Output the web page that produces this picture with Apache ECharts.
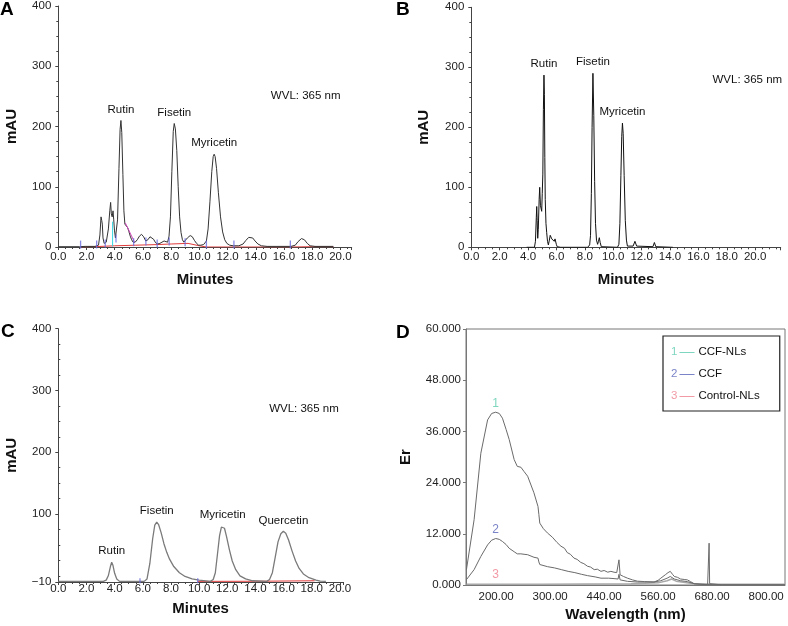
<!DOCTYPE html>
<html><head><meta charset="utf-8">
<script src="https://cdn.jsdelivr.net/npm/echarts@6/dist/echarts.min.js"></script>
<style>html,body{margin:0;padding:0;background:#fff}#c{width:788px;height:626px}</style>
</head><body><div id="c"></div>
<script>
// ---------- Panel A (HPLC chromatogram, extract) ----------
const traceA = [[0,0.5],[1.5,0.5],[1.9,1],[2.0,3],[2.1,1],[2.6,1],[2.85,3],[2.95,20],[3.03,50],[3.08,44],[3.12,38],[3.17,15],[3.25,6],[3.4,8],[3.55,30],[3.65,60],[3.71,74],[3.76,55],[3.82,50],[3.88,60],[3.93,45],[3.98,28],[4.05,15],[4.12,18],[4.2,45],[4.3,130],[4.38,195],[4.44,210],[4.5,190],[4.58,120],[4.65,60],[4.72,38],[4.8,40],[4.86,37],[4.92,32],[5.0,26],[5.1,18],[5.2,12],[5.3,8],[5.45,8],[5.6,12],[5.75,18],[5.9,21],[6.05,17],[6.2,10],[6.35,12],[6.5,17],[6.62,18],[6.75,13],[6.9,7],[7.05,5],[7.2,6],[7.35,8],[7.5,10],[7.62,9],[7.75,8],[7.85,18],[7.95,50],[8.05,125],[8.15,192],[8.22,205],[8.3,196],[8.4,160],[8.5,100],[8.6,50],[8.7,24],[8.8,12],[8.9,8],[9.0,10],[9.15,15],[9.35,19],[9.5,17],[9.65,11],[9.8,6],[9.95,3],[10.1,3],[10.3,4],[10.5,10],[10.62,30],[10.75,75],[10.88,125],[10.98,150],[11.05,154],[11.12,150],[11.22,130],[11.35,90],[11.5,50],[11.65,25],[11.8,12],[11.95,6],[12.15,3],[12.4,2],[12.8,2],[13.1,5],[13.3,11],[13.5,16],[13.62,17],[13.78,15],[13.95,10],[14.15,5],[14.4,2],[14.8,1],[15.5,1],[16.5,1],[16.8,3],[17.0,9],[17.24,14],[17.45,12],[17.65,6],[17.85,2],[18.2,1],[19.5,1]];
const baselineA = [[1.6,0],[2.5,0.5],[4.0,2],[5.5,3],[7.0,4],[8.0,5],[9.2,6],[10.0,2],[10.5,0],[12.5,0],[16.5,0],[18.0,0.5],[19.5,0.5]];
const dropLineA = [[3.85,1],[3.85,42]];
const skimLineA = [[4.75,40],[5.4,8]];
const markersA = [[1.58,4],[2.72,4],[3.33,6],[4.09,14],[5.34,8],[6.21,9],[7.01,6],[7.86,9],[8.99,8],[10.5,4],[12.45,4],[16.45,4]];
const peakNamesA = ['Rutin','Fisetin','Myricetin'];
const peakTimesA = [4.44, 8.22, 11.05];

// ---------- Panel B ----------
const traceB = [[3.9,0],[4.45,0],[4.52,10],[4.58,50],[4.61,68],[4.64,45],[4.68,15],[4.72,30],[4.78,80],[4.82,100],[4.87,70],[4.92,70],[4.96,60],[5.0,90],[5.04,122],[5.08,230],[5.12,287],[5.15,255],[5.18,150],[5.21,80],[5.26,40],[5.31,25],[5.37,10],[5.43,4],[5.5,12],[5.56,20],[5.61,23],[5.67,14],[5.73,16],[5.79,16],[5.84,10],[5.9,14],[5.94,13],[5.99,5],[6.05,1],[6.3,0],[8.2,0],[8.34,4],[8.4,20],[8.46,90],[8.51,200],[8.57,290],[8.63,220],[8.69,110],[8.75,40],[8.82,12],[8.9,5],[8.96,10],[9.02,16],[9.08,8],[9.16,1],[10.3,0],[10.4,5],[10.47,40],[10.54,120],[10.6,185],[10.65,207],[10.7,190],[10.77,120],[10.85,45],[10.93,12],[11.0,2],[11.4,2],[11.53,10],[11.65,2],[12.8,1],[12.9,8],[13.0,1],[14.2,0]];
const peakNamesB = ['Rutin','Fisetin','Myricetin'];
const peakTimesB = [5.12, 8.57, 10.65];

// ---------- Panel C (standards) ----------
const traceC = [[0,-9],[3.2,-9],[3.4,-7],[3.55,0],[3.7,15],[3.79,22],[3.88,17],[4.0,4],[4.15,-5],[4.35,-9],[6.1,-9],[6.3,-5],[6.5,20],[6.7,60],[6.85,82],[6.99,87],[7.12,83],[7.3,70],[7.5,52],[7.7,38],[7.9,27],[8.2,15],[8.6,5],[9.0,-1],[9.5,-5],[10.0,-7],[10.8,-9],[11.0,-6],[11.15,5],[11.3,35],[11.45,65],[11.58,79],[11.67,81],[11.8,77],[11.95,63],[12.15,42],[12.35,24],[12.6,10],[12.9,0],[13.3,-5],[13.8,-8],[14.8,-9],[15.0,-6],[15.2,5],[15.4,30],[15.6,55],[15.8,68],[15.98,72],[16.15,69],[16.35,58],[16.6,40],[16.85,24],[17.1,12],[17.4,3],[17.8,-3],[18.3,-7],[18.6,-8.5],[19.0,-9]];
const baselineC = [[9.9,-9],[14.0,-8.8],[18.2,-8]];
const markersC = [[5.8,-8],[9.9,-8]];
const peakNamesC = ['Rutin','Fisetin','Myricetin','Quercetin'];
const peakTimesC = [3.79, 6.99, 11.67, 15.98];
const yLabelsC = [-10, 100, 200, 300, 400];

// ---------- Panel D (spectra) ----------
const specCCFNLs = [[134,3.6],[151,15.3],[166,30.9],[181,38.7],[190,40.2],[199,40.5],[207,40.2],[214,39.1],[222,36.5],[229,34.1],[240,29.4],[247,27.8],[255,27.6],[262,26.6],[270,25.5],[284,21.6],[293,18.4],[295,16.5],[297,14.5],[305,13.2],[314,12.2],[325,11.2],[335,10.0],[344,9.1],[352,8.6],[358,7.6],[365,7.2],[373,6.3],[380,6.0],[388,5.3],[395,5.0],[403,4.4],[410,4.2],[418,3.6],[425,3.7],[433,3.2],[440,3.4],[448,3.0],[455,3.2],[462,3.0],[468,2.9],[471,3.0],[473,5.9],[475.5,2.4],[483,2.0],[492,1.6],[503,1.2],[514,0.9],[530,0.8],[551,0.7],[560,1.1],[566,1.6],[576,2.4],[582,2.9],[587,3.2],[592,2.5],[596,2.0],[603,1.8],[610,1.4],[618,1.3],[625,1.2],[632,0.8],[640,0.3],[655,0.15],[670,0.1],[672,0.3],[673.3,9.8],[674.5,0.3],[677,0.1],[700,0.05],[760,0.05],[842,0.05]];
const specCCF = [[134,1.25],[151,3.6],[166,6.7],[181,9.4],[190,10.5],[199,10.9],[207,10.7],[214,10.2],[222,9.5],[229,8.6],[240,7.8],[247,7.3],[255,7.3],[262,7.2],[270,7.1],[284,6.5],[293,6.3],[295,5.4],[297,4.8],[314,4.3],[330,4.0],[345,3.6],[360,3.2],[375,2.9],[390,2.5],[403,2.2],[420,1.9],[433,1.6],[450,1.6],[462,1.5],[471,1.4],[473,2.5],[475.5,1.2],[492,0.86],[514,0.7],[551,0.7],[566,1.0],[580,1.6],[587,2.0],[596,1.4],[610,1.0],[625,0.8],[640,0.3],[670,0.1],[700,0.05],[842,0.05]];
const specControl = [[134,0.2],[199,0.2],[300,0.2],[500,0.3],[560,0.5],[580,1.0],[590,1.4],[600,0.9],[640,0.3],[700,0.2],[842,0.2]];
const legendNames = ['CCF-NLs','CCF','Control-NLs'];
const legendNums = ['1','2','3'];
const legendColors = ['#7fd6c0','#7b84c8','#f29aa6'];
const numberLabelW = 199;
const dTickValues = [200, 320, 440, 560, 680, 800];
const dTickLabels = ['200.00','300.00','440.00','560.00','680.00','800.00'];

// ---------- build ----------
const FONT = 'Liberation Sans, Arial, Helvetica, sans-serif';
function valAt(data, x) {
  let best = data[0];
  for (const p of data) if (Math.abs(p[0]-x) < Math.abs(best[0]-x)) best = p;
  return best[1];
}
function peakMarks(trace, names, times) {
  return {
    symbol: 'circle', symbolSize: 0, silent: true,
    label: {show: true, position: 'top', distance: 5, color: '#111', fontSize: 11.5, fontFamily: FONT, formatter: p => p.name},
    data: names.map((n, i) => ({name: n, coord: [times[i], valAt(trace, times[i])]}))
  };
}
const axisColor = '#444';
function xChrom(gi, max, margin, gap) {
  return {type: 'value', gridIndex: gi, min: 0, max: max, interval: 2,
    axisLine: {show: true, onZero: false, lineStyle: {color: axisColor, width: 1}},
    axisTick: {show: true, length: 3, lineStyle: {color: axisColor}},
    minorTick: {show: true, splitNumber: 4, length: 2, lineStyle: {color: axisColor}},
    splitLine: {show: false},
    axisLabel: {margin: margin, color: '#222', fontSize: 11.5, fontFamily: FONT, formatter: v => v.toFixed(1), showMaxLabel: false},
    name: 'Minutes', nameLocation: 'middle', nameGap: gap,
    nameTextStyle: {fontWeight: 'bold', fontSize: 15, color: '#111', fontFamily: FONT}};
}
function yChrom(gi, gap) {
  return {type: 'value', gridIndex: gi, min: 0, max: 400, interval: 100,
    axisLine: {show: true, lineStyle: {color: axisColor, width: 1}},
    axisTick: {show: true, length: 3, lineStyle: {color: axisColor}},
    minorTick: {show: true, splitNumber: 4, length: 2, lineStyle: {color: axisColor}},
    splitLine: {show: false},
    axisLabel: {margin: 7, color: '#222', fontSize: 11.5, fontFamily: FONT},
    name: 'mAU', nameLocation: 'middle', nameGap: gap, nameRotate: 90,
    nameTextStyle: {fontWeight: 'bold', fontSize: 15, color: '#111', fontFamily: FONT}};
}
const minorC = [];
for (let v = 0; v <= 400; v += 25) if (v % 100 !== 0 || v === 0) minorC.push(v);

const option = {
  animation: false,
  grid: [
    {left: 58.3, top: 5, width: 293.4, height: 242},
    {left: 471.3, top: 7.3, width: 309.4, height: 240},
    {left: 58.3, top: 328.7, width: 284.5, height: 253.3},
    {left: 466, top: 329, width: 319, height: 256, show: true, borderColor: '#777', borderWidth: 1, backgroundColor: 'transparent'}
  ],
  xAxis: [
    xChrom(0, 20.8, 3.5, 25),
    xChrom(1, 21.8, 3.5, 25),
    xChrom(2, 20.2, 1, 19.5),
    {type: 'value', gridIndex: 3, min: 133, max: 842,
      axisLine: {show: true, onZero: false, lineStyle: {color: '#777'}},
      axisTick: {show: false, customValues: dTickValues},
      splitLine: {show: false},
      axisLabel: {customValues: dTickValues, margin: 6, color: '#222', fontSize: 11.5, fontFamily: FONT,
        formatter: v => dTickLabels[dTickValues.indexOf(v)]},
      name: 'Wavelength (nm)', nameLocation: 'middle', nameGap: 22,
      nameTextStyle: {fontWeight: 'bold', fontSize: 15, color: '#111', fontFamily: FONT}}
  ],
  yAxis: [
    yChrom(0, 39),
    yChrom(1, 40),
    {type: 'value', gridIndex: 2, min: -10, max: 400,
      axisLine: {show: true, onZero: false, lineStyle: {color: axisColor, width: 1}},
      axisTick: {show: true, length: 3, customValues: yLabelsC, lineStyle: {color: axisColor}},
      splitLine: {show: false},
      axisLabel: {customValues: yLabelsC, margin: 7, color: '#222', fontSize: 11.5, fontFamily: FONT,
        formatter: v => (v < 0 ? '\u2212' + Math.abs(v) : String(v))},
      name: 'mAU', nameLocation: 'middle', nameGap: 39, nameRotate: 90,
      nameTextStyle: {fontWeight: 'bold', fontSize: 15, color: '#111', fontFamily: FONT}},
    {type: 'value', gridIndex: 3, min: 0, max: 60, interval: 12,
      axisLine: {show: true, lineStyle: {color: '#777'}},
      axisTick: {show: true, length: 3, lineStyle: {color: '#777'}},
      splitLine: {show: false},
      axisLabel: {margin: 5, color: '#222', fontSize: 11.5, fontFamily: FONT, formatter: v => v.toFixed(3)},
      name: 'Er', nameLocation: 'middle', nameGap: 53, nameRotate: 90,
      nameTextStyle: {fontWeight: 'bold', fontSize: 15, color: '#111', fontFamily: FONT}},
    {type: 'value', gridIndex: 2, min: -10, max: 400,
      axisLine: {show: false}, splitLine: {show: false}, axisLabel: {show: false},
      axisTick: {show: true, length: 2, customValues: minorC, lineStyle: {color: axisColor}}}
  ],
  legend: {
    show: true, orient: 'vertical', left: 663, top: 336, data: legendNames,
    itemWidth: 0, itemHeight: 0, itemGap: 7, padding: [8, 20, 8, 2],
    borderColor: '#222', borderWidth: 1.2, backgroundColor: '#fff', selectedMode: false,
    formatter: name => { const i = legendNames.indexOf(name); return '{n' + i + '|' + legendNums[i] + '}{d' + i + '|\u2014}{t|' + name + '}'; },
    textStyle: {fontFamily: FONT, fontSize: 11.5, color: '#111', rich: (() => {
      const r = {t: {color: '#111', fontSize: 11.5, fontFamily: FONT, lineHeight: 14, padding: [0, 0, 0, 4]}};
      legendColors.forEach((c, i) => {
        r['n' + i] = {color: c, fontSize: 11.5, fontFamily: FONT, lineHeight: 14, padding: [0, 2, 0, 0]};
        r['d' + i] = {color: c, fontSize: 15, fontFamily: FONT, lineHeight: 14};
      });
      return r; })()}
  },
  series: [
    {type: 'line', name: 'baseA', xAxisIndex: 0, yAxisIndex: 0, data: baselineA, symbol: 'none', lineStyle: {color: '#e03a3a', width: 1}, z: 3},
    {type: 'line', name: 'traceA', xAxisIndex: 0, yAxisIndex: 0, data: traceA, symbol: 'none', lineStyle: {color: '#333', width: 1}, z: 4,
      markPoint: peakMarks(traceA, peakNamesA, peakTimesA)},
    {type: 'line', name: 'dropA', xAxisIndex: 0, yAxisIndex: 0, data: dropLineA, symbol: 'none', lineStyle: {color: '#35d6e0', width: 1}, z: 5},
    {type: 'line', name: 'skimA', xAxisIndex: 0, yAxisIndex: 0, data: skimLineA, symbol: 'none', lineStyle: {color: '#cc44b8', width: 1}, z: 5},
    {type: 'scatter', name: 'markA', xAxisIndex: 0, yAxisIndex: 0, data: markersA, symbol: 'rect', symbolSize: [1.3, 8], itemStyle: {color: '#6b6be0'}, z: 6},
    {type: 'line', name: 'traceB', xAxisIndex: 1, yAxisIndex: 1, data: traceB, symbol: 'none', lineStyle: {color: '#111', width: 1}, z: 4,
      markPoint: peakMarks(traceB, peakNamesB, peakTimesB)},
    {type: 'line', name: 'baseC', xAxisIndex: 2, yAxisIndex: 2, data: baselineC, symbol: 'none', lineStyle: {color: '#e03a3a', width: 1}, z: 3},
    {type: 'line', name: 'traceC', xAxisIndex: 2, yAxisIndex: 2, data: traceC, symbol: 'none', lineStyle: {color: '#7a7a7a', width: 1.3}, z: 4,
      markPoint: peakMarks(traceC, peakNamesC, peakTimesC)},
    {type: 'scatter', name: 'markC', xAxisIndex: 2, yAxisIndex: 2, data: markersC, symbol: 'rect', symbolSize: [1.3, 5], itemStyle: {color: '#6b6be0'}, z: 6},
    ...[specCCFNLs, specCCF, specControl].map((d, i) => ({
      type: 'line', name: legendNames[i], xAxisIndex: 3, yAxisIndex: 3, data: d, symbol: 'none',
      color: legendColors[i],
      lineStyle: {color: i === 2 ? '#a8a8a8' : '#6a6a6a', width: i === 2 ? 1.5 : 1}, z: 4 - i,
      markPoint: {symbol: 'circle', symbolSize: 0, silent: true,
        label: {show: true, position: 'top', distance: 3, color: legendColors[i], fontSize: 12, fontFamily: FONT, formatter: p => p.name},
        data: [{name: legendNums[i], coord: [numberLabelW, valAt(d, numberLabelW)]}]}
    }))
  ],
  graphic: [
    {type: 'text', left: 0, top: 0, style: {text: 'A', font: 'bold 19px ' + FONT, fill: '#000'}},
    {type: 'text', left: 396, top: 0, style: {text: 'B', font: 'bold 19px ' + FONT, fill: '#000'}},
    {type: 'text', left: 1, top: 322, style: {text: 'C', font: 'bold 19px ' + FONT, fill: '#000'}},
    {type: 'text', left: 396, top: 323, style: {text: 'D', font: 'bold 19px ' + FONT, fill: '#000'}},
    {type: 'text', x: 305.7, y: 96, style: {text: 'WVL: 365 nm', font: '11.5px ' + FONT, fill: '#111', align: 'center', verticalAlign: 'middle'}},
    {type: 'text', x: 747.3, y: 80, style: {text: 'WVL: 365 nm', font: '11.5px ' + FONT, fill: '#111', align: 'center', verticalAlign: 'middle'}},
    {type: 'text', x: 304, y: 408.7, style: {text: 'WVL: 365 nm', font: '11.5px ' + FONT, fill: '#111', align: 'center', verticalAlign: 'middle'}}
  ]
};
const chart = echarts.init(document.getElementById('c'), null, {renderer: 'canvas'});
chart.setOption(option);
</script></body></html>
